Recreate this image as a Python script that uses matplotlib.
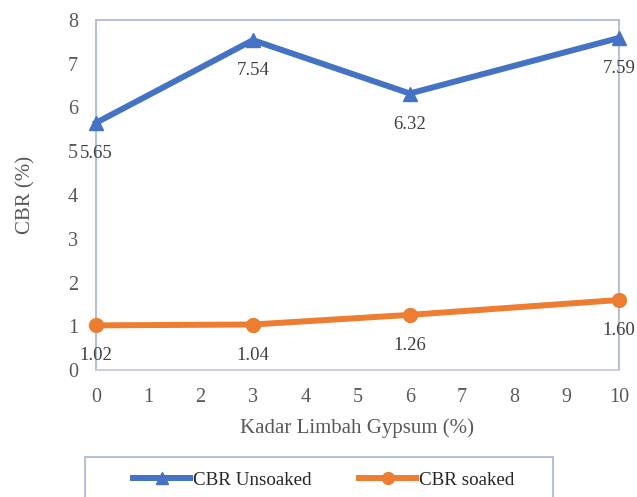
import numpy as np
import matplotlib.pyplot as plt
from matplotlib.patches import Rectangle

# kadar limbah gypsum (%) and CBR values
kadar = [0, 3, 6, 10]
cbr_unsoaked = [5.65, 7.54, 6.32, 7.59]
cbr_soaked = [1.02, 1.04, 1.26, 1.60]
x_ticks = list(range(0, 11))
y_ticks = list(range(0, 9))

plt.rcParams['font.family'] = ['Liberation Serif', 'DejaVu Serif']

blue = '#4472C4'
orange = '#ED7D31'
grey_txt = '#595959'
frame = '#AEBBD3'

fig = plt.figure(figsize=(6.37, 4.97), dpi=100)
ax = fig.add_axes([96/637, 1-370/497, (619-96)/637, (370-20)/497])

ax.plot(kadar, cbr_unsoaked, color=blue, lw=4.3, marker='^', ms=10.5,
        label='CBR Unsoaked', clip_on=False, zorder=3)
ax.plot(kadar, cbr_soaked, color=orange, lw=4.3, marker='o', ms=10,
        label='CBR soaked', clip_on=False, zorder=3)

# data labels below the points
for xs, ys in [(kadar, cbr_unsoaked), (kadar, cbr_soaked)]:
    for xv, yv in zip(xs, ys):
        ax.annotate('%.2f' % yv, (xv, yv), xytext=(0, -22), textcoords='offset points',
                    ha='center', va='center', fontsize=13.5, color='#404040', zorder=4)

ax.set_xlim(0, 10)
ax.set_ylim(0, 8)
ax.set_xticks(x_ticks)
ax.set_yticks(y_ticks)
ax.tick_params(length=0, labelsize=14.5, colors=grey_txt, pad=13)
for s in ax.spines.values():
    s.set_color(frame)
    s.set_linewidth(1.3)
ax.spines['bottom'].set_color('#C8CCD4')

ax.set_xlabel('Kadar Limbah Gypsum (%)', fontsize=15, color=grey_txt, labelpad=8)
ax.set_ylabel('CBR (%)', fontsize=15, color=grey_txt)
ax.yaxis.set_label_coords(-(96-35)/523, 0.5)

# legend box (runs off the bottom of the picture)
fig.patches.append(Rectangle((85/637, -0.05), (553-85)/637, 1-457/497+0.05,
                             transform=fig.transFigure, fill=False,
                             edgecolor=frame, lw=1.3))
h, l = ax.get_legend_handles_labels()
fig.legend(h, l, loc='center left', bbox_to_anchor=(133/637, 1-480/497), ncol=2,
           frameon=False, fontsize=13.7, handlelength=3.0, handletextpad=0.15,
           columnspacing=2.5, borderpad=0, borderaxespad=0, markerscale=0.85,
           labelcolor='#262626')

fig.savefig('out.png', dpi=100)
